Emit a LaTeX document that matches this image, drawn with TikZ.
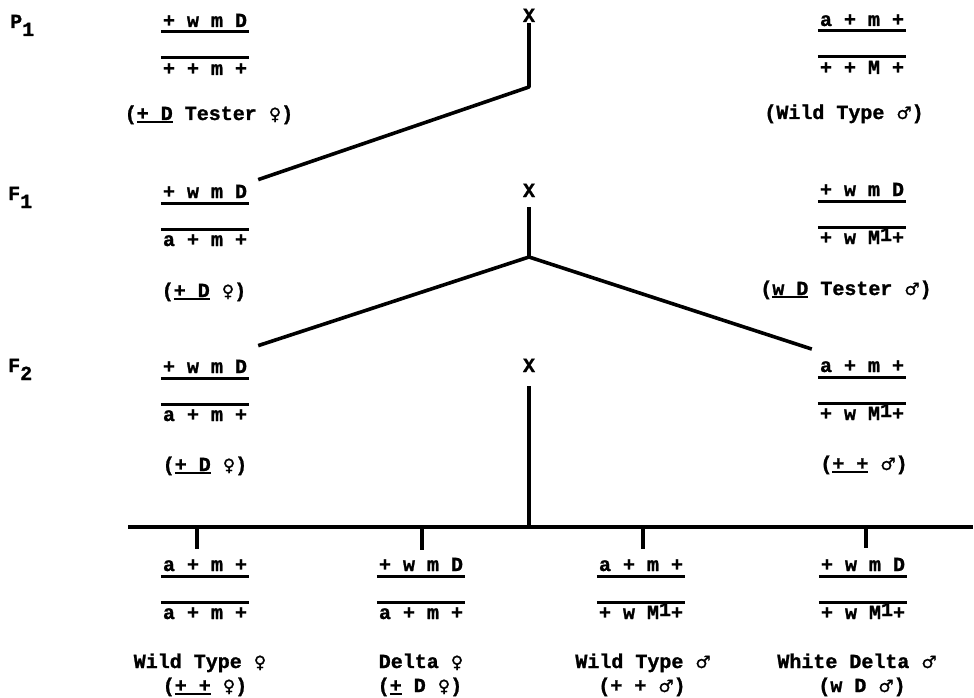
\documentclass[tikz,border=0pt]{standalone}
\usepackage{fontspec}
\newfontfamily\tw{Liberation Mono}[BoldFeatures={FakeBold=1.2}]
\newfontfamily\symf{DejaVu Sans}[FakeBold=1]
\newcommand\fem{{\symf\fontsize{17}{20}\selectfont ♀}}
\newcommand\mal{{\symf\fontsize{17}{20}\selectfont ♂}}
\newcommand\ulb[1]{\vtop{\hbox{#1}\kern1.2pt\hrule height1.8pt}}
\newcommand\Mone{M\raisebox{3pt}{1}}
\tikzset{
  txt/.style={font=\tw\bfseries\fontsize{20}{24}\selectfont, inner sep=0pt, anchor=base},
  bar/.style={line width=3pt},
  link/.style={line width=3.6pt, line join=round},
}
\newcommand\geno[5]{%
  \node[txt] (#1t) at (#2,#3) {#4};
  \node[txt] (#1b) at (#2,#3+48) {#5};
  \draw[bar] ([xshift=-2pt,yshift=-5pt]#1t.base west) -- ([xshift=2pt,yshift=-5pt]#1t.base east);
  \draw[bar] ([xshift=-2pt,yshift=17pt]#1b.base west) -- ([xshift=2pt,yshift=17pt]#1b.base east);
}
\begin{document}
\begin{tikzpicture}[x=1pt,y=-1pt]
\fill[white] (0,0) rectangle (974,698);
\useasboundingbox (0,0) rectangle (974,698);

% generation labels
\node[txt,anchor=base west] (gP1) at (10,28) {P\raisebox{-8pt}{1}};
\node[txt,anchor=base west] (gF1) at (8,200) {F\raisebox{-8pt}{1}};
\node[txt,anchor=base west] (gF2) at (8,372) {F\raisebox{-8pt}{2}};

% P1
\geno{pl}{205}{27}{+ w m D}{+ + m +}
\node[txt] (pll) at (209,120) {(\ulb{+ D} Tester \fem)};
\geno{pr}{862}{26}{a + m +}{+ + M +}
\node[txt] (prl) at (844,119) {(Wild Type \mal)};
\node[txt] (x1) at (529,22) {X};

% F1
\geno{fl}{205}{198}{+ w m D}{a + m +}
\node[txt] (fll) at (204,297) {(\ulb{+ D} \fem)};
\geno{fr}{862}{196}{+ w m D}{+ w \Mone+}
\node[txt] (frl) at (846,295) {(\ulb{w D} Tester \mal)};
\node[txt] (x2) at (529,197) {X};

% F2
\geno{gl}{205}{373}{+ w m D}{a + m +}
\node[txt] (gll) at (205,471) {(\ulb{+ D} \fem)};
\geno{gr}{862}{372}{a + m +}{+ w \Mone+}
\node[txt] (grl) at (864,470) {(\ulb{+ +} \mal)};
\node[txt] (x3) at (529,372) {X};

% offspring
\geno{ba}{205}{571}{a + m +}{a + m +}
\geno{bb}{421}{571}{+ w m D}{a + m +}
\geno{bc}{641}{571}{a + m +}{+ w \Mone+}
\geno{bd}{863}{571}{+ w m D}{+ w \Mone+}
\node[txt] (ban) at (200,668) {Wild Type \fem};
\node[txt] (bas) at (205,692) {(\ulb{+ +} \fem)};
\node[txt] (bbn) at (421,668) {Delta \fem};
\node[txt] (bbs) at (420,692) {(\ulb{+} D \fem)};
\node[txt] (bcn) at (643,668) {Wild Type \mal};
\node[txt] (bcs) at (642,692) {(+ + \mal)};
\node[txt] (bdn) at (857,668) {White Delta \mal};
\node[txt] (bds) at (862,692) {(w D \mal)};

% connectors
\coordinate (j1) at (529,87);
\coordinate (j2) at (529,257);
\coordinate (j3) at (529,527);
\coordinate (hl) at (128,527);
\coordinate (hr) at (973,527);
\coordinate (k1) at (197,527);
\coordinate (k2) at (422,527);
\coordinate (k3) at (643,527);
\coordinate (k4) at (866,527);

\draw[link] ([yshift=-1pt]x1.south) -- (j1) -- ([xshift=11pt,yshift=5pt]flt.north east);
\draw[link] ([yshift=-10pt]x2.south) -- (j2);
\draw[link] ([xshift=11pt,yshift=14pt]glt.north east) -- (j2) -- ([xshift=-8pt,yshift=11pt]grt.north west);
\draw[link] ([yshift=-14pt]x3.south) -- (j3);
\draw[link] (hl) -- (hr);
\draw[link] (k1) -- ++(0,22);
\draw[link] (k2) -- ++(0,23);
\draw[link] (k3) -- ++(0,22);
\draw[link] (k4) -- ++(0,21);
\end{tikzpicture}
\end{document}
